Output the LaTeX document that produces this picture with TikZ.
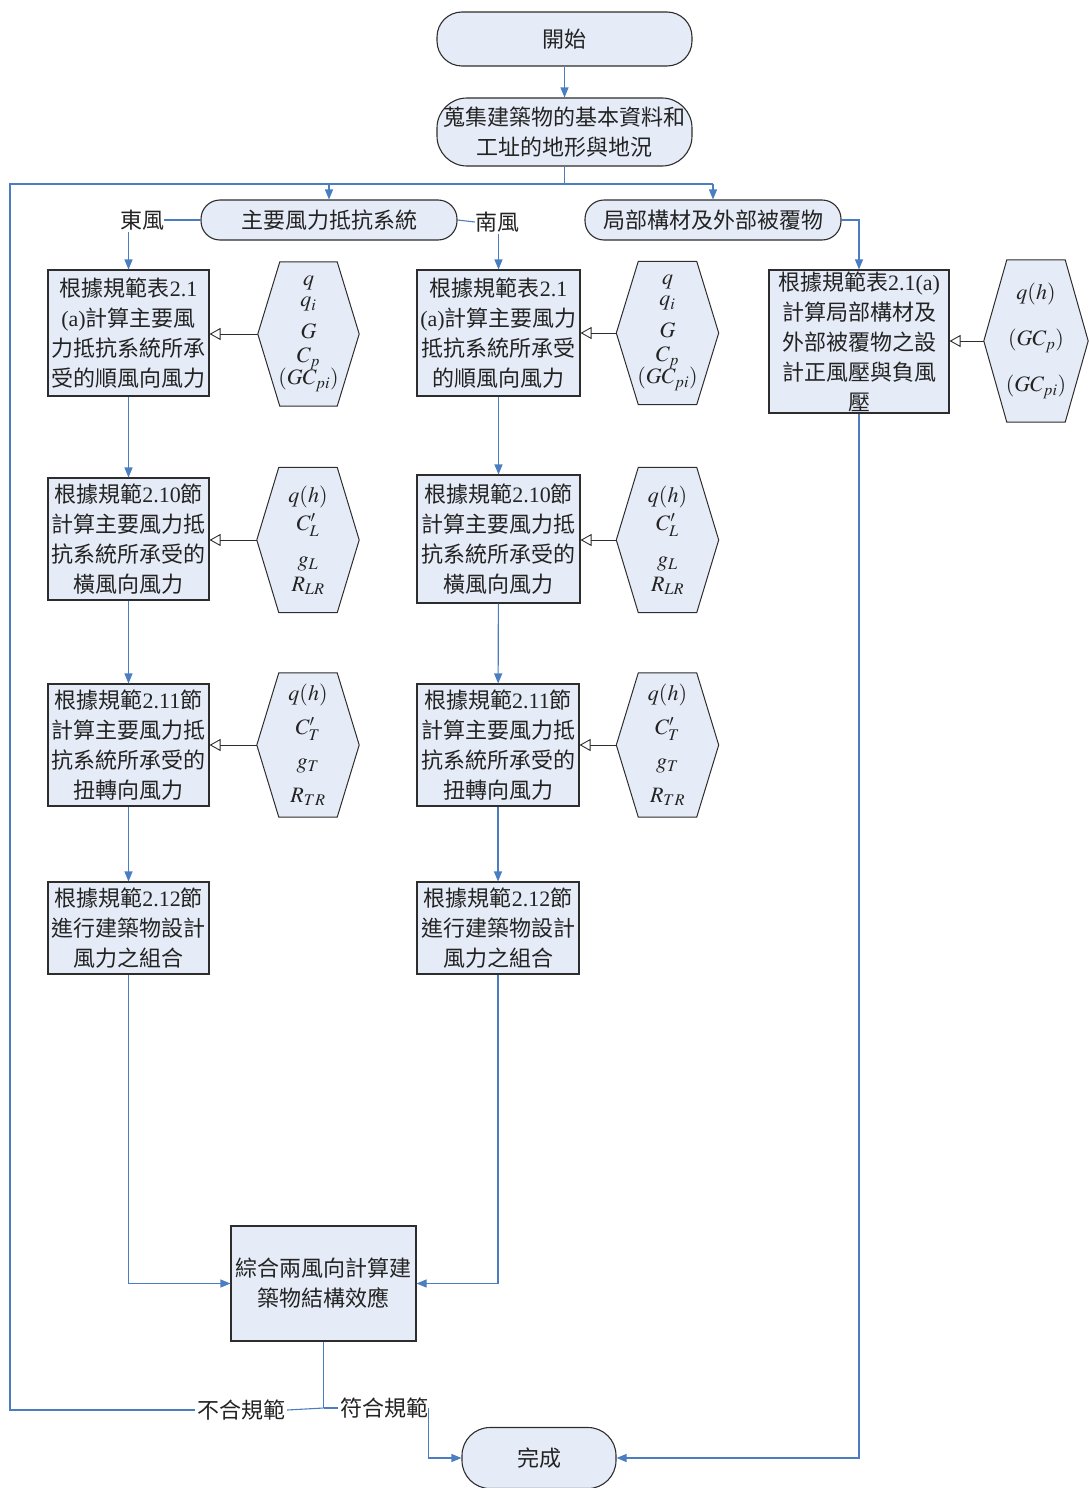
\documentclass[tikz,border=0pt]{standalone}
\usepackage{mathptmx}
\usepackage{fontspec}
\setmainfont{Noto Sans CJK TC}
\newfontfamily\lat{Liberation Serif}
\usetikzlibrary{arrows.meta,backgrounds,calc}

\definecolor{boxfill}{RGB}{230,236,247}
\definecolor{boxline}{RGB}{45,45,45}
\definecolor{flowblue}{RGB}{74,126,193}
\definecolor{txt}{RGB}{35,35,35}

\tikzset{
  procbox/.style={rectangle, draw=boxline, fill=boxfill, line width=1.1pt,
    align=center, inner sep=0pt, text=txt,
    font=\fontsize{22}{30}\selectfont},
  termbox/.style={rectangle, rounded corners=#1, draw=boxline, fill=boxfill,
    line width=1.1pt, align=center, inner sep=0pt, text=txt,
    font=\fontsize{22}{30}\selectfont},
  hexnode/.style={rectangle, inner sep=0pt, align=center, text=txt,
    font=\fontsize{22}{26}\selectfont},
  hexline/.style={draw=boxline, fill=boxfill, line width=1.0pt, line join=miter},
  tag/.style={inner sep=0pt, text=txt, font=\fontsize{22}{26}\selectfont},
  flow/.style={draw=flowblue, line width=1.1pt},
  flowarrow/.style={flow, -{Triangle[length=10pt,width=8pt]}},
  feedarrow/.style={draw=boxline, line width=0.9pt,
    -{Triangle[open,length=11pt,width=12pt,line width=0.9pt]}},
}

% hexagon outline drawn behind a named node: #1 node, #2 corner inset
\newcommand\hexaround[2]{%
  \begin{scope}[on background layer]
    \path[hexline] (#1.west) -- ([xshift=#2]#1.north west)
      -- ([xshift=-#2]#1.north east) -- (#1.east)
      -- ([xshift=-#2]#1.south east) -- ([xshift=#2]#1.south west) -- cycle;
  \end{scope}}

\begin{document}
\begin{tikzpicture}[x=1pt,y=-1pt]
\useasboundingbox (0,0) rectangle (1089,1488);

% terminals and headings
\node[termbox=25pt, minimum width=255, minimum height=54] (start) at (564.5,39) {開始};
\node[termbox=30pt, minimum width=255, minimum height=68] (collect) at (564.5,132)
  {蒐集建築物的基本資料和\\工址的地形與地況};
\node[termbox=19pt, minimum width=256, minimum height=40] (main) at (329,220) {主要風力抵抗系統};
\node[termbox=19pt, minimum width=256, minimum height=40] (local) at (713,220) {局部構材及外部被覆物};
\node[tag] (east) at (142,220) {東風};
\node[tag] (south) at (497,222) {南風};

% left column (east wind)
\node[procbox, minimum width=161, minimum height=126] (a1) at (128.5,333)
  {根據規範表{\lat 2.1}\\{\lat (a)}計算主要風\\力抵抗系統所承\\受的順風向風力};
\node[procbox, minimum width=161, minimum height=122] (a2) at (128.5,539)
  {根據規範{\lat 2.10}節\\計算主要風力抵\\抗系統所承受的\\橫風向風力};
\node[procbox, minimum width=161, minimum height=122] (a3) at (128.5,745)
  {根據規範{\lat 2.11}節\\計算主要風力抵\\抗系統所承受的\\扭轉向風力};
\node[procbox, minimum width=161, minimum height=92] (a4) at (128.5,928)
  {根據規範{\lat 2.12}節\\進行建築物設計\\風力之組合};

% middle column (south wind)
\node[procbox, minimum width=163, minimum height=126] (b1) at (498.5,333)
  {根據規範表{\lat 2.1}\\{\lat (a)}計算主要風力\\抵抗系統所承受\\的順風向風力};
\node[procbox, minimum width=163, minimum height=128] (b2) at (498.5,539)
  {根據規範{\lat 2.10}節\\計算主要風力抵\\抗系統所承受的\\橫風向風力};
\node[procbox, minimum width=162, minimum height=122] (b3) at (498,745)
  {根據規範{\lat 2.11}節\\計算主要風力抵\\抗系統所承受的\\扭轉向風力};
\node[procbox, minimum width=162, minimum height=92] (b4) at (498,928)
  {根據規範{\lat 2.12}節\\進行建築物設計\\風力之組合};

% right column (components and cladding)
\node[procbox, minimum width=180, minimum height=143] (c1) at (859,341.5)
  {根據規範表{\lat 2.1(a)}\\計算局部構材及\\外部被覆物之設\\計正風壓與負風\\壓};

% combination and end
\node[procbox, minimum width=185, minimum height=115] (comb) at (323.5,1283.5)
  {綜合兩風向計算建\\築物結構效應};
\node[termbox=28pt, minimum width=154, minimum height=61] (done) at (539,1458) {完成};
\node[tag] (ng) at (241,1410) {不合規範};
\node[tag] (ok) at (384,1408) {符合規範};

% parameter hexagons
\node[hexnode, minimum width=101, minimum height=144] (h1) at (308.5,334)
  {$q$\\[-5pt]$q_i$\\[6pt]$G$\\[-2pt]$C_p$\\[-4pt]$(GC_{pi})$};
\node[hexnode, minimum width=102, minimum height=143] (h2) at (667.5,333)
  {$q$\\[-5pt]$q_i$\\[6pt]$G$\\[-2pt]$C_p$\\[-4pt]$(GC_{pi})$};
\node[hexnode, minimum width=104, minimum height=162] (h3) at (1036,341)
  {$q(h)$\\[20pt]$(GC_p)$\\[20pt]$(GC_{pi})$};
\node[hexnode, minimum width=102, minimum height=145] (h4) at (308,540)
  {$q(h)$\\[2pt]$C'_L$\\[10pt]$g_L$\\[-1pt]$R_{LR}$};
\node[hexnode, minimum width=102, minimum height=145] (h5) at (667.5,540)
  {$q(h)$\\[2pt]$C'_L$\\[10pt]$g_L$\\[-1pt]$R_{LR}$};
\node[hexnode, minimum width=102, minimum height=144] (h6) at (308,745)
  {$q(h)$\\[8pt]$C'_T$\\[8pt]$g_T$\\[8pt]$R_{TR}$};
\node[hexnode, minimum width=102, minimum height=144] (h7) at (667.5,745)
  {$q(h)$\\[8pt]$C'_T$\\[8pt]$g_T$\\[8pt]$R_{TR}$};
\hexaround{h1}{22pt}
\hexaround{h2}{22pt}
\hexaround{h3}{23pt}
\hexaround{h4}{22pt}
\hexaround{h5}{22pt}
\hexaround{h6}{22pt}
\hexaround{h7}{22pt}

% parameters feeding the calculations
\draw[feedarrow] (h1.west) -- (h1.west -| a1.east);
\draw[feedarrow] (h2.west) -- (h2.west -| b1.east);
\draw[feedarrow] (h3.west) -- (h3.west -| c1.east);
\draw[feedarrow] (h4.west) -- (h4.west -| a2.east);
\draw[feedarrow] (h5.west) -- (h5.west -| b2.east);
\draw[feedarrow] (h6.west) -- (h6.west -| a3.east);
\draw[feedarrow] (h7.west) -- (h7.west -| b3.east);

% main flow
\coordinate (jL) at (10,184);
\draw[flowarrow] (start.south) -- (collect.north);
\draw[flow] (collect.south) -- (collect.south |- jL);
\draw[flowarrow] (jL -| main.north) -- (main.north);
\draw[flowarrow] (jL -| local.north) -- (local.north);
\draw[flow] (main.west) -- (east.east);
\draw[flow] (main.east) -- (south.west);
\draw[flowarrow] ([yshift=-2pt]east.south -| a1.north) -- (a1.north);
\draw[flowarrow] ([yshift=-2pt]south.south -| b1.north) -- (b1.north);
\draw[flowarrow] (local.east) -| (c1.north);

\draw[flowarrow] (a1) -- (a2);
\draw[flowarrow] (a2) -- (a3);
\draw[flowarrow] (a3) -- (a4);
\draw[flowarrow] (b1) -- (b2);
\draw[flowarrow] (b2) -- (b3);
\draw[flowarrow] (b3) -- (b4);
\draw[flowarrow] (a4.south) |- (comb.west);
\draw[flowarrow] (b4.south) |- (comb.east);

% code check outcome
\coordinate (split) at (comb.south |- ok.west);
\draw[flow] (comb.south) -- (split);
\draw[flow] (split) -- ([xshift=2pt]ng.east);
\draw[flow] ([xshift=-2pt]ng.west) -| (jL) -- (jL -| local.north);
\draw[flow] (split) -- ([xshift=-2pt]ok.west);
\draw[flowarrow] (ok.east) |- (done.west);
\draw[flowarrow] (c1.south) |- (done.east);
\end{tikzpicture}
\end{document}
